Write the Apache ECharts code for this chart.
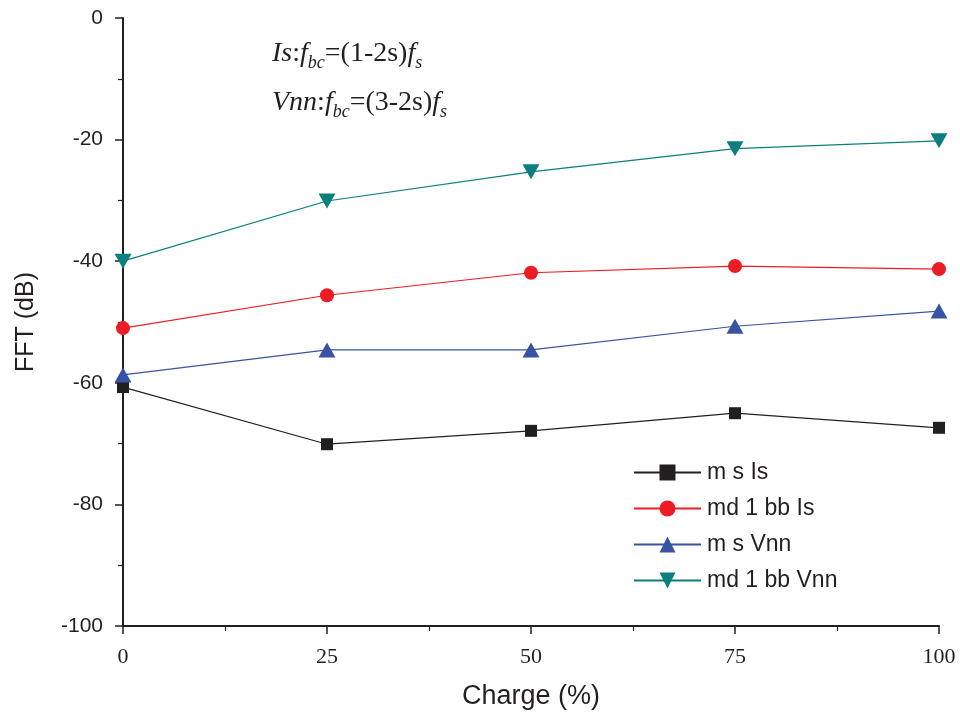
<!DOCTYPE html>
<html><head><meta charset="utf-8">
<script src="https://cdn.jsdelivr.net/npm/echarts@6/dist/echarts.min.js"></script>
<style>html,body{margin:0;padding:0;background:#fff}#c{width:960px;height:722px}</style>
</head><body><div id="c"></div>
<script>
var charge = [0, 25, 50, 75, 100];
var seriesNames = ['m s Is', 'md 1 bb Is', 'm s Vnn', 'md 1 bb Vnn'];
var msIs = [-60.7, -70.1, -67.9, -65.0, -67.4];
var md1bbIs = [-51.0, -45.6, -41.9, -40.8, -41.3];
var msVnn = [-58.7, -54.6, -54.6, -50.7, -48.2];
var md1bbVnn = [-40.0, -30.1, -25.3, -21.5, -20.2];
var xTicks = [0, 25, 50, 75, 100];
var yTicks = [0, -20, -40, -60, -80, -100];

var colors = ['#231f20', '#ed1c24', '#3953a4', '#0a7f7d'];
var symbols = ['rect', 'circle', 'triangle', 'path://M0,0 L10,0 L5,9 Z'];
var sizes = [[12, 12], 14, [17, 15], [17, 15]];
var allData = [msIs, md1bbIs, msVnn, md1bbVnn];

function pairs(arr) { return charge.map(function (x, i) { return [x, arr[i]]; }); }

var richStyle = {
  i: { fontFamily: 'Liberation Serif', fontStyle: 'italic', fontSize: 28, fill: '#231f20', lineHeight: 32 },
  r: { fontFamily: 'Liberation Serif', fontSize: 28, fill: '#231f20', lineHeight: 32 },
  s: { fontFamily: 'Liberation Serif', fontStyle: 'italic', fontSize: 18, fill: '#231f20', lineHeight: 32, padding: [18, 0, 0, 0] }
};

var chart = echarts.init(document.getElementById('c'));
chart.setOption({
  animation: false,
  grid: { left: 123, right: 21, top: 18, bottom: 96 },
  legend: {
    left: 628, top: 456, orient: 'vertical', itemWidth: 67, itemHeight: 20, itemGap: 13,
    textStyle: { fontFamily: 'Liberation Sans, Arial', fontSize: 23, color: '#231f20', padding: [0, 0, 0, 1] },
    data: seriesNames
  },
  xAxis: {
    type: 'value', min: 0, max: 100, interval: 25,
    name: 'Charge (%)', nameLocation: 'middle', nameGap: 57,
    nameTextStyle: { fontFamily: 'Liberation Sans, Arial', fontSize: 27, color: '#231f20' },
    axisLine: { show: true, onZero: false, lineStyle: { color: '#231f20', width: 2 } },
    axisTick: { show: true, length: 8, lineStyle: { color: '#231f20', width: 1.5 } },
    minorTick: { show: true, splitNumber: 2, length: 5, lineStyle: { color: '#231f20', width: 1.2 } },
    axisLabel: { margin: 20, fontFamily: 'Liberation Serif, Times New Roman', fontSize: 22, color: '#231f20',
      formatter: function (v) { return xTicks.indexOf(v) >= 0 ? String(v) : ''; } },
    splitLine: { show: false }
  },
  yAxis: {
    type: 'value', min: -100, max: 0, interval: 20,
    name: 'FFT (dB)', nameLocation: 'middle', nameGap: 84, nameRotate: 90,
    nameTextStyle: { fontFamily: 'Liberation Sans, Arial', fontSize: 25, color: '#231f20' },
    axisLine: { show: true, onZero: false, lineStyle: { color: '#231f20', width: 2 } },
    axisTick: { show: true, length: 8, lineStyle: { color: '#231f20', width: 1.5 } },
    minorTick: { show: true, splitNumber: 2, length: 5, lineStyle: { color: '#231f20', width: 1.2 } },
    axisLabel: { margin: 20, fontFamily: 'Liberation Sans, Arial', fontSize: 21, color: '#231f20',
      formatter: function (v) { return yTicks.indexOf(v) >= 0 ? String(v) : ''; } },
    splitLine: { show: false }
  },
  graphic: [
    { type: 'text', left: 272, top: 36, style: {
      text: '{i|Is}{r|:}{i|f}{s|bc}{r|=(1-2s)}{i|f}{s|s}', rich: richStyle } },
    { type: 'text', left: 272, top: 85, style: {
      text: '{i|Vnn}{r|:}{i|f}{s|bc}{r|=(3-2s)}{i|f}{s|s}', rich: richStyle } }
  ],
  series: seriesNames.map(function (n, i) {
    return {
      name: n, type: 'line', data: pairs(allData[i]),
      symbol: symbols[i], symbolSize: sizes[i], showAllSymbol: true,
      lineStyle: { color: colors[i], width: 1.2 },
      itemStyle: { color: colors[i], borderWidth: 0 },
      clip: false, z: 2 + i
    };
  })
});
</script></body></html>
